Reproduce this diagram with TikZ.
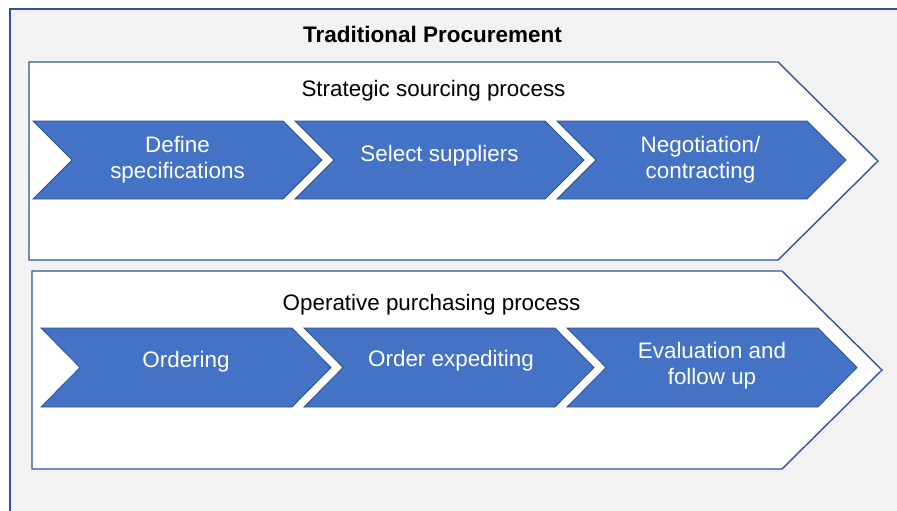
\documentclass[tikz,border=0pt]{standalone}
\usepackage{fontspec}
\setmainfont{Liberation Sans}
\usepackage{tikz}

\definecolor{panelgray}{RGB}{242,242,242}
\definecolor{paneledge}{RGB}{47,85,151}
\definecolor{stageblue}{RGB}{68,114,196}
\definecolor{stageedge}{RGB}{47,82,143}

\tikzset{
  panel/.style={fill=panelgray, draw=paneledge, line width=1.5pt},
  phase/.style={fill=white, draw=paneledge, line width=1.4pt, line join=miter},
  stage/.style={fill=stageblue, draw=stageedge, line width=0.8pt},
  titletext/.style={font=\fontsize{22.5}{26}\selectfont\bfseries, text=black, inner sep=0pt},
  phasetext/.style={font=\fontsize{22.4}{26}\selectfont, text=black, inner sep=0pt},
  stagetext/.style={font=\fontsize{22.4}{26}\selectfont, text=white, align=center, inner sep=0pt}
}

% chevron with a notch on the left: left x, top y, width, height/2
\newcommand{\StageShape}[4]{%
  \draw[stage] (#1,#2) -- ++(#3,0) -- ++(39,#4) -- ++(-39,#4) -- ++(-#3,0) -- ++(39,-#4) -- cycle;}

\begin{document}
\begin{tikzpicture}[x=1pt,y=-1pt]
\useasboundingbox (0,0) rectangle (897,511);
\draw[panel] (10,9) rectangle (910,530);
\node[titletext,anchor=base] (title) at (432.5,43) {Traditional Procurement};

% strategic sourcing
\draw[phase] (29,62) -- (778,62) -- (878,161) -- (778,260) -- (29,260) -- cycle;
\node[phasetext,anchor=base] (sourcing) at (433.5,96) {Strategic sourcing process};
\StageShape{33}{121}{250}{39}
\StageShape{295}{121}{250}{39}
\StageShape{557}{121}{250}{39}
\node[stagetext] (define) at (177.5,159.3) {Define\\specifications};
\node[stagetext] (select) at (439.5,155.3) {Select suppliers};
\node[stagetext] (negotiate) at (700.5,160) {Negotiation/\\contracting};

% operative purchasing
\draw[phase] (32,271) -- (782,271) -- (882,370) -- (782,469) -- (32,469) -- cycle;
\node[phasetext,anchor=base] (purchasing) at (431.5,310) {Operative purchasing process};
\StageShape{41}{328}{251}{39.5}
\StageShape{304}{328}{251}{39.5}
\StageShape{567}{328}{251}{39.5}
\node[stagetext] (ordering) at (186,361.3) {Ordering};
\node[stagetext] (expediting) at (451,361) {Order expediting};
\node[stagetext] (evaluation) at (712,366) {Evaluation and\\follow up};
\end{tikzpicture}
\end{document}
